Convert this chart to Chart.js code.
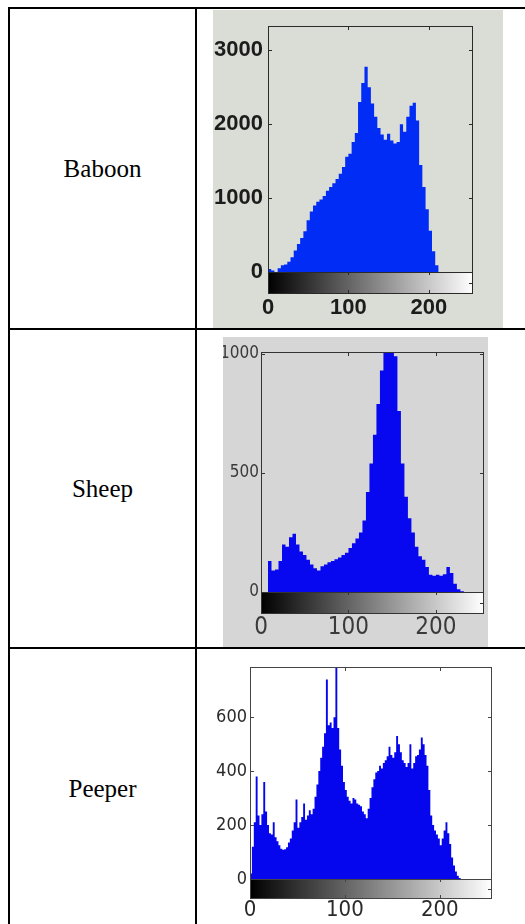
<!DOCTYPE html>
<html>
<head>
<meta charset="utf-8">
<script src="https://cdn.jsdelivr.net/npm/chart.js@4.4.0/dist/chart.umd.min.js"></script>
<style>
  html, body { margin: 0; padding: 0; background: #fff; width: 525px; height: 924px; overflow: hidden; }
  .rule { position: absolute; background: #000; }
  .name { position: absolute; left: 10px; width: 185px; display: flex; align-items: center; justify-content: center;
          font: 25px "Liberation Serif", "Times New Roman", serif; color: #000; }
  .plot { position: absolute; }
  .plot canvas { display: block; }
</style>
</head>
<body>
<!-- table rules -->
<div class="rule" style="left:8px;top:7px;width:530px;height:2px"></div>
<div class="rule" style="left:8px;top:7px;width:2px;height:930px"></div>
<div class="rule" style="left:195px;top:7px;width:2px;height:930px"></div>
<div class="rule" style="left:8px;top:328px;width:530px;height:2px"></div>
<div class="rule" style="left:8px;top:647px;width:530px;height:2px"></div>

<div class="name" style="top:9px;height:319px">Baboon</div>
<div class="name" style="top:330px;height:317px">Sheep</div>
<div class="name" style="top:649px;height:280px">Peeper</div>

<div class="plot" style="left:213px;top:10px;width:290px;height:318px;background:#dadcd6">
  <canvas id="baboon" width="290" height="318"></canvas>
</div>
<div class="plot" style="left:223px;top:337px;width:265px;height:310px;background:#d6d6d6">
  <canvas id="sheep" width="265" height="310"></canvas>
</div>
<div class="plot" style="left:200px;top:655px;width:300px;height:269px;background:#fff">
  <canvas id="peeper" width="300" height="269"></canvas>
</div>

<script>
// grey-level histograms, counts per bin (bins of equal width over 0..256)
const baboonCounts = [
  40, 20, 0, 50, 90, 100, 140, 200, 290, 380, 460, 550, 700, 820, 900, 950,
  980, 1030, 1100, 1150, 1200, 1260, 1330, 1420, 1560, 1600, 1760, 1880, 2300, 2560, 2780, 2500,
  2280, 2100, 1950, 1860, 1790, 1870, 1780, 1740, 1760, 2000, 1900, 2100, 2250, 2290, 2050, 1450,
  1150, 850, 560, 280, 90, 0, 0, 0, 0, 0, 0, 0, 0, 0, 0, 0
];
const sheepCounts = [
  0, 0, 130, 90, 95, 130, 200, 190, 230, 245, 200, 170, 155, 135, 115, 100,
  90, 108, 115, 125, 130, 138, 145, 155, 165, 185, 205, 225, 250, 300, 420, 540,
  660, 790, 930, 1040, 1060, 1050, 990, 760, 540, 400, 310, 250, 190, 150, 135, 105,
  72, 68, 72, 68, 75, 105, 80, 35, 12, 3, 0, 0, 0, 0, 0, 0
];
const peeperCounts = [
  20, 120, 210, 380, 235, 200, 240, 360, 250, 200, 170, 165, 210, 155, 140, 125,
  112, 108, 110, 118, 135, 150, 180, 210, 295, 190, 210, 230, 280, 220, 235, 255,
  240, 260, 305, 350, 400, 450, 490, 540, 740, 570, 580, 560, 600, 820, 560, 480,
  420, 360, 330, 305, 290, 280, 300, 295, 280, 275, 270, 250, 240, 225, 260, 300,
  340, 370, 395, 400, 420, 410, 430, 440, 455, 490, 460, 450, 470, 530, 500, 470,
  440, 430, 415, 430, 500, 410, 430, 455, 460, 480, 525, 500, 460, 420, 330, 235,
  200, 180, 165, 150, 125, 150, 180, 210, 170, 130, 80, 50, 28, 12, 4, 0,
  0, 0, 0, 0, 0, 0, 0, 0, 0, 0, 0, 0, 0, 0, 0, 0
];

const xTickValues = [0, 100, 200];
const baboonYTicks = [0, 1000, 2000, 3000];
const sheepYTicks = [0, 500, 1000];
const peeperYTicks = [0, 200, 400, 600];

const narrow = '"Liberation Sans Narrow", "Arial Narrow", "DejaVu Sans Condensed", sans-serif';

// matlab-ish box, inward ticks and the grey colour bar under the axes
const matlabAxes = {
  id: 'matlabAxes',
  afterDatasetsDraw(chart, args, o) {
    const { ctx, chartArea: a, scales: { x, y } } = chart;
    const w = a.right - a.left;
    ctx.save();
    const g = ctx.createLinearGradient(a.left, 0, a.right, 0);
    g.addColorStop(0, '#000');
    g.addColorStop(1, '#fff');
    ctx.fillStyle = g;
    ctx.fillRect(a.left, a.bottom, w, o.barH);
    ctx.strokeStyle = o.frame;
    ctx.lineWidth = 1;
    ctx.strokeRect(a.left + 0.5, a.top + 0.5, w - 1, a.bottom - a.top);
    ctx.strokeRect(a.left + 0.5, a.bottom + 0.5, w - 1, o.barH);
    ctx.beginPath();
    y.ticks.forEach(t => {
      const py = Math.round(y.getPixelForValue(t.value)) + 0.5;
      ctx.moveTo(a.left, py); ctx.lineTo(a.left + 4, py);
      ctx.moveTo(a.right, py); ctx.lineTo(a.right - 4, py);
    });
    x.ticks.forEach(t => {
      const px = Math.round(x.getPixelForValue(t.value)) + 0.5;
      ctx.moveTo(px, a.top); ctx.lineTo(px, a.top + 4);
      ctx.moveTo(px, a.bottom); ctx.lineTo(px, a.bottom + 3);
      ctx.moveTo(px, a.bottom + o.barH); ctx.lineTo(px, a.bottom + o.barH - 3);
    });
    const my = Math.round(a.bottom + o.barH / 2) + 0.5;
    ctx.moveTo(a.right, my); ctx.lineTo(a.right - 4, my);
    ctx.stroke();
    ctx.restore();
  }
};

function histChart(id, counts, yTicks, o) {
  const binW = 256 / counts.length;
  const points = counts.map((v, i) => ({ x: i * binW, y: v }));
  return new Chart(document.getElementById(id), {
    type: 'line',
    data: {
      datasets: [{
        data: points,
        stepped: true,
        fill: 'origin',
        backgroundColor: o.color,
        borderColor: 'rgba(0,0,0,0)',
        borderWidth: 1,
        pointRadius: 0
      }]
    },
    options: {
      responsive: false,
      animation: false,
      events: [],
      layout: { padding: { top: o.top, right: o.right, left: 0, bottom: 0 } },
      plugins: {
        legend: { display: false },
        tooltip: { enabled: false },
        matlabAxes: { frame: o.frame, barH: o.barH }
      },
      scales: {
        x: {
          type: 'linear', min: 0, max: 255,
          grid: { display: false, drawTicks: false },
          border: { display: false },
          afterBuildTicks: s => { s.ticks = xTickValues.map(v => ({ value: v })); },
          afterFit: s => { s.height = o.xH; },
          ticks: { padding: o.xPad, font: o.xFont, color: o.tickColor, maxRotation: 0, autoSkip: false,
                   callback: v => String(v) }
        },
        y: {
          min: 0, max: o.yMax,
          grid: { display: false, drawTicks: false },
          border: { display: false },
          afterBuildTicks: s => { s.ticks = yTicks.map(v => ({ value: v })); },
          afterFit: s => { s.width = o.yW; },
          ticks: { padding: o.yPad, font: o.yFont, color: o.tickColor, autoSkip: false,
                   callback: v => String(v) }
        }
      }
    },
    plugins: [matlabAxes]
  });
}

histChart('baboon', baboonCounts, baboonYTicks, {
  color: 'rgb(0,44,245)', frame: '#2a2a2a', tickColor: '#1c1c1c',
  top: 14, right: 30, yW: 55, xH: 56, yMax: 3330, barH: 21, xPad: 25, yPad: 5,
  yFont: { family: '"Liberation Sans", Arial, sans-serif', size: 22, weight: 'bold', lineHeight: 1 },
  xFont: { family: '"Liberation Sans", Arial, sans-serif', size: 22, weight: 'bold', lineHeight: 1 }
});

histChart('sheep', sheepCounts, sheepYTicks, {
  color: 'rgb(8,8,240)', frame: '#333', tickColor: '#3a3a3a',
  top: 15, right: 4, yW: 38, xH: 55, yMax: 1008, barH: 21, xPad: 24, yPad: 2,
  yFont: { family: narrow, size: 17, lineHeight: 1 },
  xFont: { family: narrow, size: 24, lineHeight: 1 }
});

histChart('peeper', peeperCounts, peeperYTicks, {
  color: 'rgb(6,6,238)', frame: '#444', tickColor: '#2a2a2a',
  top: 9, right: 8, yW: 50, xH: 45, yMax: 786, barH: 19, xPad: 20, yPad: 3,
  yFont: { family: narrow, size: 18, lineHeight: 1 },
  xFont: { family: narrow, size: 22, lineHeight: 1 }
});
</script>
</body>
</html>
